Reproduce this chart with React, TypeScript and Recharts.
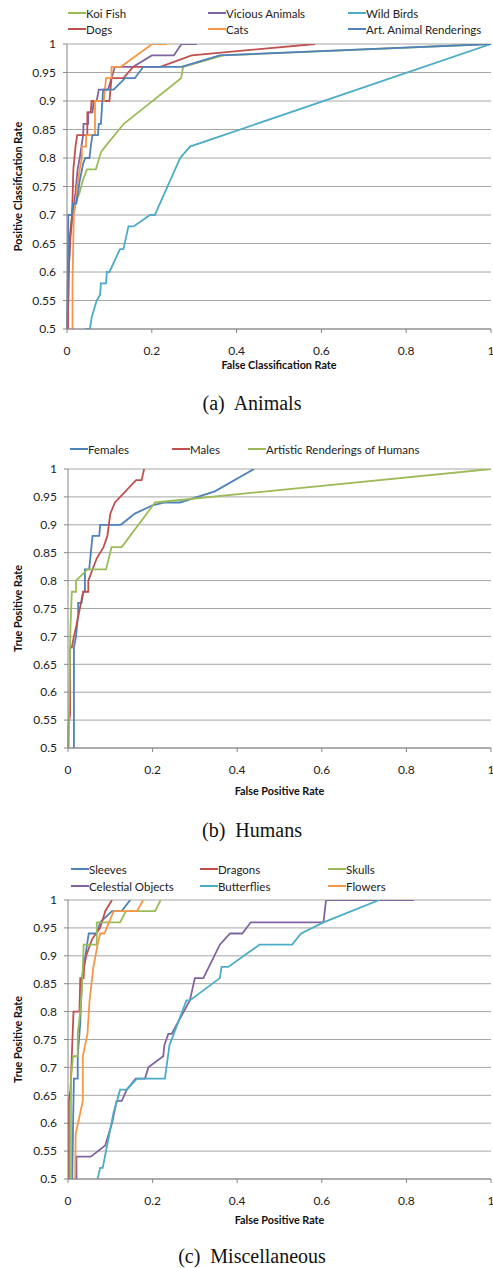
import { CartesianGrid, Line, LineChart, XAxis, YAxis } from "recharts";

type Pt = [number, number];

const xTicks = [0, 0.2, 0.4, 0.6, 0.8, 1];
const yTicks = [0.5, 0.55, 0.6, 0.65, 0.7, 0.75, 0.8, 0.85, 0.9, 0.95, 1];

// (a) Animals
const koiFish: Pt[] = [
  [0.001, 0.5], [0.003, 0.6], [0.006, 0.66], [0.012, 0.7], [0.02, 0.72], [0.03, 0.74],
  [0.037, 0.76], [0.047, 0.78], [0.068, 0.78], [0.08, 0.81], [0.09, 0.82], [0.134, 0.86],
  [0.269, 0.94], [0.274, 0.96], [0.368, 0.98], [1, 1],
];
const viciousAnimals: Pt[] = [
  [0.002, 0.5], [0.004, 0.6], [0.008, 0.66], [0.013, 0.7], [0.02, 0.74], [0.025, 0.78],
  [0.03, 0.8], [0.038, 0.84], [0.039, 0.86], [0.05, 0.86], [0.05, 0.88], [0.06, 0.88],
  [0.063, 0.9], [0.07, 0.9], [0.075, 0.92], [0.097, 0.92], [0.113, 0.96], [0.156, 0.96],
  [0.2, 0.98], [0.252, 0.98], [0.27, 1], [0.306, 1],
];
const wildBirds: Pt[] = [
  [0.042, 0.5], [0.054, 0.5], [0.058, 0.52], [0.07, 0.55], [0.078, 0.56], [0.08, 0.58],
  [0.092, 0.58], [0.094, 0.6], [0.1, 0.6], [0.125, 0.64], [0.133, 0.64], [0.145, 0.68],
  [0.157, 0.68], [0.196, 0.7], [0.207, 0.7], [0.267, 0.8], [0.29, 0.82], [1, 1],
];
const dogs: Pt[] = [
  [0.002, 0.5], [0.004, 0.6], [0.007, 0.66], [0.012, 0.7], [0.015, 0.78], [0.02, 0.82],
  [0.024, 0.84], [0.048, 0.84], [0.048, 0.88], [0.056, 0.88], [0.058, 0.9], [0.1, 0.9],
  [0.105, 0.94], [0.133, 0.94], [0.156, 0.96], [0.22, 0.96], [0.294, 0.98], [0.585, 1],
];
const cats: Pt[] = [
  [0.013, 0.5], [0.013, 0.58], [0.014, 0.62], [0.016, 0.7], [0.02, 0.72], [0.024, 0.75],
  [0.03, 0.78], [0.035, 0.8], [0.035, 0.82], [0.045, 0.82], [0.045, 0.84], [0.066, 0.84],
  [0.066, 0.9], [0.087, 0.9], [0.092, 0.94], [0.105, 0.94], [0.105, 0.96], [0.127, 0.96],
  [0.201, 1], [0.236, 1],
];
const artAnimals: Pt[] = [
  [0, 0.5], [0.002, 0.6], [0.003, 0.7], [0.011, 0.7], [0.014, 0.72], [0.022, 0.72],
  [0.03, 0.76], [0.038, 0.79], [0.043, 0.8], [0.053, 0.8], [0.056, 0.82], [0.06, 0.84],
  [0.073, 0.84], [0.075, 0.86], [0.08, 0.86], [0.085, 0.92], [0.11, 0.92], [0.137, 0.94],
  [0.16, 0.94], [0.18, 0.96], [0.27, 0.96], [0.36, 0.98], [1, 1],
];

// (b) Humans
const females: Pt[] = [
  [0.014, 0.5], [0.014, 0.68], [0.019, 0.7], [0.024, 0.74], [0.024, 0.76], [0.032, 0.76],
  [0.036, 0.78], [0.04, 0.78], [0.04, 0.82], [0.05, 0.82], [0.058, 0.88], [0.074, 0.88],
  [0.076, 0.9], [0.125, 0.9], [0.158, 0.92], [0.2, 0.935], [0.229, 0.94], [0.265, 0.94],
  [0.347, 0.96], [0.44, 1],
];
const males: Pt[] = [
  [0.001, 0.5], [0.001, 0.54], [0.005, 0.56], [0.005, 0.68], [0.009, 0.68], [0.014, 0.7],
  [0.02, 0.72], [0.036, 0.78], [0.048, 0.78], [0.048, 0.8], [0.068, 0.84], [0.084, 0.86],
  [0.093, 0.88], [0.1, 0.92], [0.111, 0.94], [0.161, 0.98], [0.174, 0.98], [0.18, 1],
];
const artHumans: Pt[] = [
  [0.001, 0.5], [0.004, 0.62], [0.005, 0.68], [0.006, 0.72], [0.009, 0.78], [0.019, 0.78],
  [0.019, 0.8], [0.046, 0.82], [0.09, 0.82], [0.103, 0.86], [0.127, 0.86], [0.206, 0.94],
  [1, 1],
];

// (c) Miscellaneous
const sleeves: Pt[] = [
  [0.01, 0.5], [0.012, 0.6], [0.014, 0.68], [0.023, 0.68], [0.023, 0.72], [0.029, 0.78],
  [0.033, 0.86], [0.041, 0.9], [0.049, 0.94], [0.068, 0.94], [0.076, 0.96], [0.104, 0.98],
  [0.127, 0.98], [0.147, 1],
];
const dragons: Pt[] = [
  [0.002, 0.5], [0.002, 0.64], [0.006, 0.66], [0.013, 0.8], [0.027, 0.8], [0.029, 0.86],
  [0.037, 0.86], [0.038, 0.88], [0.043, 0.9], [0.057, 0.93], [0.076, 0.95], [0.088, 0.98],
  [0.104, 1],
];
const skulls: Pt[] = [
  [0.007, 0.5], [0.007, 0.68], [0.012, 0.72], [0.023, 0.72], [0.023, 0.76], [0.029, 0.8],
  [0.033, 0.84], [0.037, 0.92], [0.068, 0.92], [0.068, 0.96], [0.123, 0.96], [0.137, 0.98],
  [0.206, 0.98], [0.219, 1],
];
const celestial: Pt[] = [
  [0.02, 0.5], [0.02, 0.54], [0.054, 0.54], [0.088, 0.56], [0.104, 0.6], [0.115, 0.64],
  [0.127, 0.64], [0.139, 0.66], [0.16, 0.68], [0.182, 0.68], [0.19, 0.7], [0.225, 0.72],
  [0.228, 0.74], [0.237, 0.76], [0.245, 0.76], [0.288, 0.82], [0.3, 0.86], [0.32, 0.86],
  [0.359, 0.92], [0.383, 0.94], [0.412, 0.94], [0.432, 0.96], [0.604, 0.96], [0.61, 1],
  [0.818, 1],
];
const butterflies: Pt[] = [
  [0.07, 0.5], [0.076, 0.52], [0.082, 0.52], [0.108, 0.62], [0.116, 0.64], [0.123, 0.66],
  [0.139, 0.66], [0.163, 0.68], [0.229, 0.68], [0.24, 0.74], [0.28, 0.82], [0.288, 0.82],
  [0.359, 0.86], [0.363, 0.88], [0.379, 0.88], [0.453, 0.92], [0.53, 0.92], [0.551, 0.94],
  [0.604, 0.96], [0.736, 1],
];
const flowers: Pt[] = [
  [0.017, 0.5], [0.018, 0.58], [0.035, 0.64], [0.035, 0.72], [0.046, 0.76], [0.051, 0.82],
  [0.06, 0.88], [0.07, 0.92], [0.076, 0.94], [0.086, 0.94], [0.108, 0.98], [0.163, 0.98],
  [0.178, 1],
];

const BLUE = "#4F81BD";
const RED = "#C0504D";
const GREEN = "#9BBB59";
const PURPLE = "#8064A2";
const AQUA = "#4BACC6";
const ORANGE = "#F79646";

type Series = { name: string; color: string; pts: Pt[]; lx: number; ly: number };

const font = "Lato, 'Open Sans', sans-serif";
const axisGray = "#868686";

function RocChart({
  top,
  height,
  marginTop,
  marginBottom,
  xHeight,
  yWidth,
  xTitle,
  yTitle,
  series,
}: {
  top: number;
  height: number;
  marginTop: number;
  marginBottom: number;
  xHeight: number;
  yWidth: number;
  xTitle: string;
  yTitle: string;
  series: Series[];
}) {
  return (
    <div style={{ position: "absolute", left: 0, top }}>
      <LineChart
        width={493}
        height={height}
        margin={{ top: marginTop, right: 2, left: 13, bottom: marginBottom }}
      >
        <CartesianGrid vertical={false} stroke="#a6a6a6" />
        <XAxis
          type="number"
          dataKey="x"
          domain={[0, 1]}
          ticks={xTicks}
          interval={0}
          height={xHeight}
          tickSize={4}
          tickMargin={13}
          stroke={axisGray}
          tick={{ fill: "#222", fontSize: 12, fontFamily: font }}
          label={{
            value: xTitle,
            position: "insideBottom",
            offset: 0,
            style: { fill: "#111", fontSize: 10.8, fontWeight: 700, fontFamily: font },
          }}
        />
        <YAxis
          type="number"
          domain={[0.5, 1]}
          ticks={yTicks}
          interval={0}
          allowDataOverflow
          width={yWidth}
          tickSize={4}
          tickMargin={7}
          stroke={axisGray}
          tick={{ fill: "#222", fontSize: 12, fontFamily: font }}
          label={{
            value: yTitle,
            angle: -90,
            position: "insideLeft",
            offset: 5,
            style: {
              textAnchor: "middle",
              fill: "#111",
              fontSize: 10.8,
              fontWeight: 700,
              fontFamily: font,
            },
          }}
        />
        {series.map((s) => (
          <Line
            key={s.name}
            type="linear"
            data={s.pts.map(([x, y]) => ({ x, y }))}
            dataKey="y"
            name={s.name}
            stroke={s.color}
            strokeWidth={1.8}
            dot={false}
            activeDot={false}
            isAnimationActive={false}
          />
        ))}
      </LineChart>
      {series.map((s) => (
        <div
          key={s.name + "-legend"}
          style={{
            position: "absolute",
            left: s.lx,
            top: s.ly - 8,
            height: 16,
            display: "flex",
            alignItems: "center",
            fontFamily: font,
            fontSize: 11.5,
            color: "#222",
            whiteSpace: "nowrap",
          }}
        >
          <span style={{ display: "inline-block", width: 18, height: 2, background: s.color }} />
          <span>{s.name}</span>
        </div>
      ))}
    </div>
  );
}

function Caption({ text, y }: { text: string; y: number }) {
  return (
    <div
      style={{
        position: "absolute",
        left: 102,
        width: 300,
        top: y - 10,
        height: 20,
        lineHeight: "20px",
        textAlign: "center",
        fontFamily: "'Liberation Serif', 'Times New Roman', serif",
        fontSize: 20,
        whiteSpace: "pre",
        color: "#111",
      }}
    >
      {text}
    </div>
  );
}

export default function App() {
  const animals: Series[] = [
    { name: "Koi Fish", color: GREEN, pts: koiFish, lx: 68, ly: 13 },
    { name: "Vicious Animals", color: PURPLE, pts: viciousAnimals, lx: 208, ly: 13 },
    { name: "Wild Birds", color: AQUA, pts: wildBirds, lx: 348, ly: 13 },
    { name: "Dogs", color: RED, pts: dogs, lx: 68, ly: 29 },
    { name: "Cats", color: ORANGE, pts: cats, lx: 208, ly: 29 },
    { name: "Art. Animal Renderings", color: BLUE, pts: artAnimals, lx: 348, ly: 29 },
  ];
  const humans: Series[] = [
    { name: "Females", color: BLUE, pts: females, lx: 70, ly: 29 },
    { name: "Males", color: RED, pts: males, lx: 172, ly: 29 },
    { name: "Artistic Renderings of Humans", color: GREEN, pts: artHumans, lx: 248, ly: 29 },
  ];
  const misc: Series[] = [
    { name: "Sleeves", color: BLUE, pts: sleeves, lx: 71, ly: 19 },
    { name: "Dragons", color: RED, pts: dragons, lx: 200, ly: 19 },
    { name: "Skulls", color: GREEN, pts: skulls, lx: 328, ly: 19 },
    { name: "Celestial Objects", color: PURPLE, pts: celestial, lx: 71, ly: 36 },
    { name: "Butterflies", color: AQUA, pts: butterflies, lx: 200, ly: 36 },
    { name: "Flowers", color: ORANGE, pts: flowers, lx: 328, ly: 36 },
  ];

  return (
    <div
      style={{
        position: "absolute",
        left: 0,
        top: 0,
        width: 493,
        height: 1268,
        background: "#fff",
        overflow: "hidden",
      }}
    >
      <RocChart
        top={0}
        height={380}
        marginTop={44}
        marginBottom={11}
        xHeight={40}
        yWidth={54}
        xTitle="False Classification Rate"
        yTitle="Positive Classification Rate"
        series={animals}
      />
      <Caption text="(a)  Animals" y={403} />
      <RocChart
        top={420}
        height={380}
        marginTop={49}
        marginBottom={5}
        xHeight={47}
        yWidth={55}
        xTitle="False Positive Rate"
        yTitle="True Positive Rate"
        series={humans}
      />
      <Caption text="(b)  Humans" y={830} />
      <RocChart
        top={850}
        height={400}
        marginTop={50}
        marginBottom={26}
        xHeight={45}
        yWidth={55}
        xTitle="False Positive Rate"
        yTitle="True Positive Rate"
        series={misc}
      />
      <Caption text="(c)  Miscellaneous" y={1256} />
    </div>
  );
}
